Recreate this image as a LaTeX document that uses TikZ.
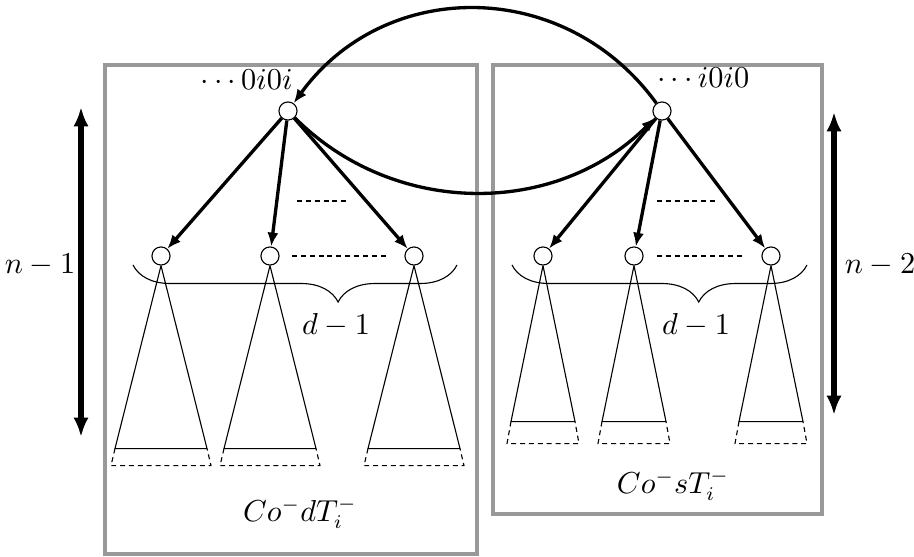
\documentclass[tikz,border=0pt]{standalone}
\usepackage{amsmath}
\usetikzlibrary{arrows.meta,decorations.pathreplacing,calc}
\begin{document}
\begin{tikzpicture}[x=0.0127cm, y=0.0127cm,
  every node/.append style={font=\fontsize{10.6}{13}\selectfont},
  vert/.style={circle, draw, fill=white, inner sep=0pt, minimum size=0.23cm},
  seta/.style={very thick, -{Latex[length=5pt,width=4pt]}},
  moldura/.style={line width=1.2pt, black!40},
  altura/.style={line width=2.5pt, {Latex[length=7pt,width=5.5pt]}-{Latex[length=7pt,width=5.5pt]}},
  tracejado/.style={dash pattern=on 1.8pt off 1.4pt},
  chave/.style={decorate, decoration={brace, mirror, amplitude=0.47cm, aspect=0.633}}]
\useasboundingbox (0,0) rectangle (914,557);
% Molduras das duas subarvores
\draw[moldura] (105,3) rectangle (477,492);
\draw[moldura] (493,43) rectangle (822,492);
% Raizes
\node[vert] (rootL) at (288,446) {};
\node[vert] (rootR) at (662,446) {};
\node[anchor=base east, inner sep=0pt] (labL) at (293,467) {$\cdots 0i0i$};
\node[anchor=base west, inner sep=0pt] (labR) at (657,469) {$\cdots i0i0$};
% Filhos
\node[vert] (cL1) at (161,301) {};
\node[vert] (cL2) at (270,301) {};
\node[vert] (cL3) at (414,301) {};
\node[vert] (cR1) at (543,301) {};
\node[vert] (cR2) at (634,301) {};
\node[vert] (cR3) at (771,301) {};
% Subarvores (triangulos com base tracejada)
\foreach \c in {cL1,cL2,cL3} {
  \draw (\c.south) -- ++(-46,-183) coordinate (bl) -- ++(92,0) coordinate (br) -- (\c.south);
  \draw[tracejado] (bl) -- ++(-4,-17) -- ++(100,0) -- (br);
}
\foreach \c in {cR1,cR2,cR3} {
  \draw (\c.south) -- ++(-32,-156) coordinate (bl) -- ++(64,0) coordinate (br) -- (\c.south);
  \draw[tracejado] (bl) -- ++(-4,-22) -- ++(72,0) -- (br);
}
% Arestas da raiz para os filhos
\foreach \c in {cL1,cL2,cL3} \draw[seta] (rootL) -- (\c);
\foreach \c in {cR1,cR2,cR3} \draw[seta] (rootR) -- (\c);
% Reticencias
\draw[tracejado] (297,356) -- (348,356);
\draw[tracejado] (292,301) -- (388,301);
\draw[tracejado] (657,356) -- (717,356);
\draw[tracejado] (657,301) -- (744,301);
% Chaves
\draw[chave] (133,292) -- (457,292);
\draw[chave] (512,292) -- (807,292);
\node (dL) at (336,232) {$d-1$};
\node (dR) at (696,232) {$d-1$};
% Arcos entre as raizes
\draw[seta] (rootR) to[out=126, in=54, looseness=1.1] (rootL);
\draw[seta] (rootL) to[out=-45, in=-135] (rootR);
% Alturas
\draw[altura] (81,120) -- (81,450);
\draw[altura] (834,142) -- (834,445);
\node (hL) at (40,292) {$n-1$};
\node (hR) at (880,292) {$n-2$};
% Nomes
\node (nomeL) at (300,44) {$Co^-dT_i^-$};
\node (nomeR) at (673,72) {$Co^-sT_i^-$};
\end{tikzpicture}
\end{document}
